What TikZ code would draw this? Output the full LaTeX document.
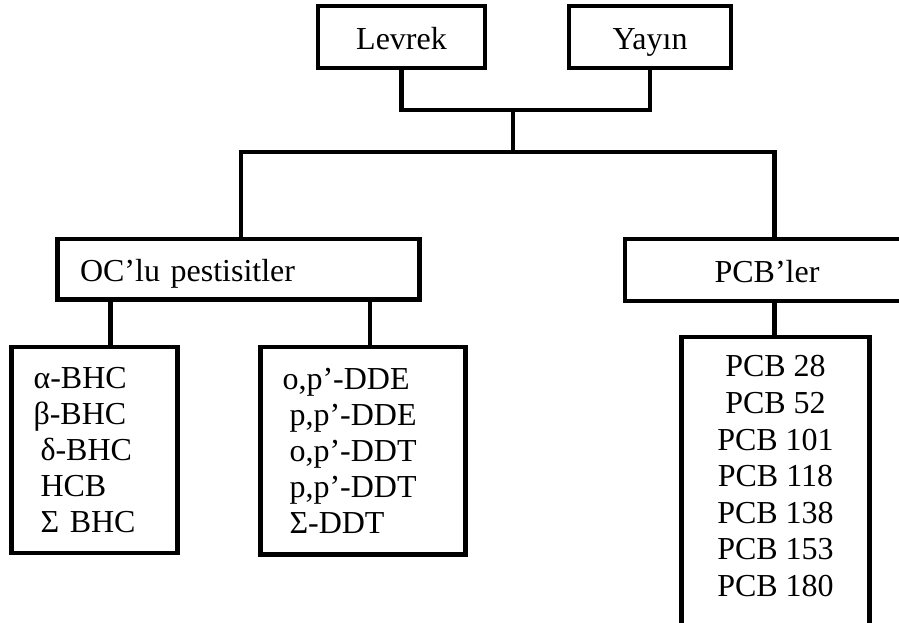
\documentclass[tikz,border=0pt]{standalone}
\usepackage{fontspec}
\setmainfont{Liberation Serif}
\begin{document}
\begin{tikzpicture}[x=0.5pt, y=-0.5pt, line width=2.2pt,
box/.style = {draw, line width=2.2pt, inner sep=0pt, font=\fontsize{16}{18}\selectfont},
label box/.style = {box, text height=12pt, text depth=0pt},
list/.style = {box, align=left, inner xsep=11pt}]
    \clip (0,0) rectangle (899,622);

    \node[label box, minimum width=83.5pt, minimum height=31.25pt] (levrek) at (401.5,37) {Levrek};
    \node[label box, minimum width=81pt, minimum height=31.25pt] (yayin) at (650,37) {Yayın};

    \node[label box, align=left, text width=158.5pt, inner xsep=11.25pt, minimum height=30.25pt] (oc) at (238.5,269.25) {OC’lu pestisitler};
    \node[label box, minimum width=141.75pt, minimum height=31pt] (pcbler) at (767,270) {PCB’ler};

    \node[list, text width=61pt, minimum height=103pt] (bhc) at (94.5,450) {α-BHC\\ β-BHC\\ \hspace*{3.5pt}δ-BHC\\ \hspace*{3.5pt}HCB\\ \hspace*{3.5pt}Σ BHC};
    \node[list, text width=80.5pt, minimum height=103.75pt] (ddt) at (363,450.75) {o,p’-DDE\\ \hspace*{3.5pt}p,p’-DDE\\ \hspace*{3.5pt}o,p’-DDT\\ \hspace*{3.5pt}p,p’-DDT\\ \hspace*{3.5pt}Σ-DDT};
    \node[box, font=\fontsize{16}{18.3}\selectfont, align=center, minimum width=94pt, inner ysep=9.5pt, anchor=north] (pcbs) at (775.5,334.5) {PCB 28\\ PCB 52\\ PCB 101\\ PCB 118\\ PCB 138\\ PCB 153\\ PCB 180\rule[-24pt]{0pt}{1pt}};

    \coordinate (j1) at (513,110);
    \coordinate (j2) at (513,152);
    \coordinate (c1) at (241,0);
    \coordinate (c2) at (774.5,0);
    \coordinate (c3) at (110.5,0);
    \coordinate (c4) at (370,0);

    \draw (levrek.south) |- (j1) -| (yayin.south);
    \draw (j1) -- (j2);
    \draw (oc.north -| c1) |- (j2) -| (pcbler.north -| c2);

    \draw (oc.south -| c3) -- (bhc.north -| c3);
    \draw (oc.south -| c4) -- (ddt.north -| c4);
    \draw (pcbler.south -| c2) -- (pcbs.north -| c2);
\end{tikzpicture}
\end{document}
